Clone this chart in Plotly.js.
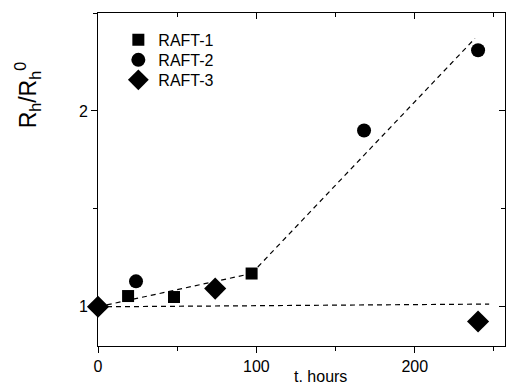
<!DOCTYPE html>
<html>
<head>
<meta charset="utf-8">
<script src="https://cdn.plot.ly/plotly-3.0.1.min.js"></script>
<style>html,body{margin:0;padding:0;background:#fff;}#chart{width:506px;height:385px;}</style>
</head>
<body>
<div id="chart"></div>
<script>
// Data
const raft1_t = [19, 48, 97];
const raft1_r = [1.055, 1.05, 1.17];
const raft2_t = [24, 168, 240];
const raft2_r = [1.13, 1.90, 2.31];
const raft3_t = [0, 74, 240];
const raft3_r = [1.0, 1.093, 0.925];
// dashed guide lines
const fit1_t = [0, 97];
const fit1_r = [1.0, 1.17];
const fit2_t = [97, 238];
const fit2_r = [1.17, 2.37];
const fit3_t = [0, 247];
const fit3_r = [1.0, 1.014];
const xTicks = [0, 100, 200];
const yTicks = [1, 2];

const dashLine = {color: '#000', width: 1.2, dash: '5px,4px'};
const traces = [
  {x: fit1_t, y: fit1_r, mode: 'lines', line: dashLine, showlegend: false, hoverinfo: 'skip'},
  {x: fit2_t, y: fit2_r, mode: 'lines', line: dashLine, showlegend: false, hoverinfo: 'skip'},
  {x: fit3_t, y: fit3_r, mode: 'lines', line: dashLine, showlegend: false, hoverinfo: 'skip'},
  {x: raft1_t, y: raft1_r, mode: 'markers', name: 'RAFT-1', legend: 'legend', marker: {symbol: 'square', size: 12, color: '#000'}},
  {x: raft2_t, y: raft2_r, mode: 'markers', name: 'RAFT-2', legend: 'legend2', marker: {symbol: 'circle', size: 14, color: '#000'}},
  {x: raft3_t, y: raft3_r, mode: 'markers', name: 'RAFT-3', legend: 'legend3', marker: {symbol: 'diamond', size: 17, color: '#000'}, cliponaxis: false}
];

const XR = [0, 257];
const YR = [0.8, 2.5];
function leg(y) {
  return {x: 0.05, y: y, xanchor: 'left', yanchor: 'middle', bgcolor: 'rgba(0,0,0,0)',
          font: {size: 16}, itemsizing: 'trace', itemwidth: 30};
}
const layout = {
  width: 506, height: 385,
  margin: {l: 98, r: 1, t: 13, b: 39},
  paper_bgcolor: '#fff', plot_bgcolor: '#fff',
  font: {family: 'Liberation Sans, Arial, sans-serif', color: '#000', size: 16},
  showlegend: true,
  legend: leg(0.919),
  legend2: leg(0.859),
  legend3: leg(0.799),
  xaxis: {range: XR, showgrid: false, zeroline: false, showline: true, linecolor: '#000', linewidth: 1,
          ticks: 'outside', ticklen: 6, tickcolor: '#000', tickvals: xTicks, ticktext: xTicks.map(String),
          minor: {dtick: 50, tick0: 0, ticks: 'outside', ticklen: 4, tickcolor: '#000'},
          tickfont: {size: 16}, fixedrange: true},
  xaxis2: {range: XR, overlaying: 'x', side: 'top', showgrid: false, zeroline: false, showline: true,
           linecolor: '#000', linewidth: 1, ticks: 'inside', ticklen: 6, tickcolor: '#000',
           tickvals: xTicks, showticklabels: false,
           minor: {dtick: 50, tick0: 0, ticks: 'inside', ticklen: 4, tickcolor: '#000'}, fixedrange: true},
  yaxis: {range: YR, showgrid: false, zeroline: false, showline: true, linecolor: '#000', linewidth: 1,
          ticks: 'outside', ticklen: 6, tickcolor: '#000', tickvals: yTicks, ticktext: yTicks.map(String),
          minor: {tickvals: [1.5, 2.5], ticks: 'outside', ticklen: 4, tickcolor: '#000'},
          tickfont: {size: 16}, fixedrange: true},
  yaxis2: {range: YR, overlaying: 'y', side: 'right', showgrid: false, zeroline: false, showline: true,
           linecolor: '#000', linewidth: 1, ticks: 'inside', ticklen: 6, tickcolor: '#000',
           tickvals: yTicks, showticklabels: false,
           minor: {tickvals: [1.5, 2.5], ticks: 'inside', ticklen: 4, tickcolor: '#000'}, fixedrange: true},
  annotations: [
    {text: 'R<sub>h</sub>/R<sub>h</sub><sup>0</sup>', xref: 'paper', yref: 'paper', x: -0.175, y: 0.755,
     xanchor: 'center', yanchor: 'middle', textangle: -90, showarrow: false, font: {size: 23}},
    {text: 't. hours', xref: 'paper', yref: 'paper', x: 0.546, y: -0.093, xanchor: 'center', yanchor: 'middle',
     showarrow: false, font: {size: 16}}
  ]
};

traces.push({x: [], y: [], xaxis: 'x2', yaxis: 'y2', showlegend: false, hoverinfo: 'skip'});

Plotly.newPlot('chart', traces, layout, {displayModeBar: false, staticPlot: true});
</script>
</body>
</html>
